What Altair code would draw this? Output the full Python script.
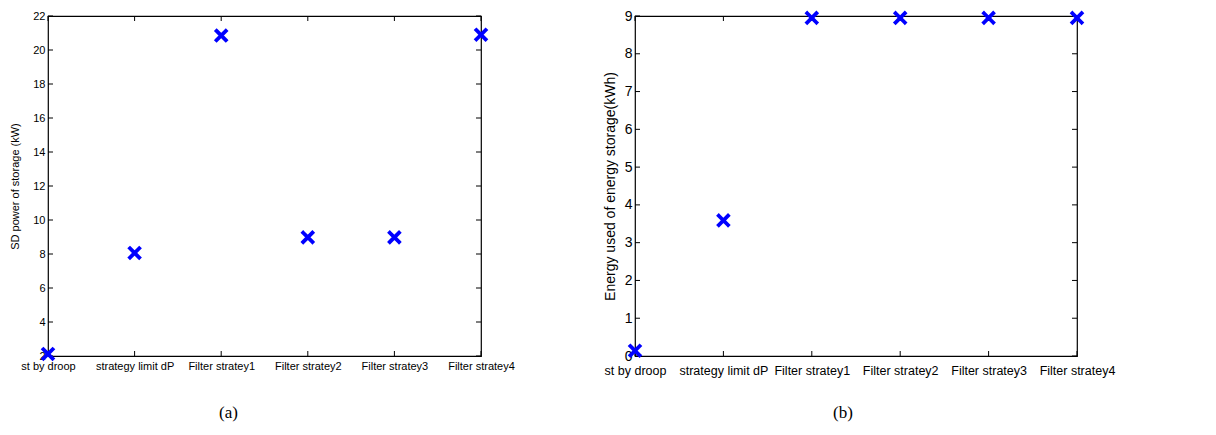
import altair as alt
import pandas as pd

categories = ["st by droop", "strategy limit dP", "Filter stratey1",
              "Filter stratey2", "Filter stratey3", "Filter stratey4"]
cat_pos = [1, 2, 3, 4, 5, 6]
sd_power = [2.12, 8.06, 20.85, 8.98, 8.98, 20.9]
energy_used = [0.14, 3.59, 8.95, 8.95, 8.95, 8.95]
yticks_a = [2, 4, 6, 8, 10, 12, 14, 16, 18, 20, 22]
yticks_b = [0, 1, 2, 3, 4, 5, 6, 7, 8, 9]

FONT = "Liberation Sans"
BLUE = "#0000FF"
XSHAPE = "M-1,-1L1,1M-1,1L1,-1"

label_expr = " : ".join(
    [f"datum.value == {p} ? '{c}'" for p, c in zip(cat_pos, categories)]) + " : ''"


def panel(values, yticks, ydomain, ytitle, W, H, xlab_fs, ylab_fs, title_fs, caption,
          cap_dx, cap_off, title_pad, xlab_pad):
    pts = pd.DataFrame({"x": cat_pos, "y": values})
    yt = pd.DataFrame({"y": yticks})
    xt = pd.DataFrame({"x": cat_pos})
    xs = alt.Scale(domain=[1, 6], nice=False, zero=False)
    ys = alt.Scale(domain=ydomain, nice=False, zero=False)
    xaxis = alt.Axis(values=cat_pos, labelExpr=label_expr, ticks=False, domain=False,
                     grid=False, labelFont=FONT, labelFontSize=xlab_fs, labelColor="black",
                     labelPadding=xlab_pad, title=None, labelOverlap=False, labelFlush=False)
    yaxis = alt.Axis(values=yticks, ticks=False, domain=False, grid=False,
                     labelFont=FONT, labelFontSize=ylab_fs, labelColor="black",
                     labelPadding=3, title=ytitle, titleFont=FONT,
                     titleFontSize=title_fs, titleFontWeight="normal",
                     titleColor="black", titlePadding=title_pad, labelFlush=False)
    X = alt.X("x:Q", scale=xs, axis=xaxis)
    Y = alt.Y("y:Q", scale=ys, axis=yaxis)
    tk = dict(color="black", strokeWidth=1)
    layers = [
        alt.Chart(yt).mark_rule(**tk).encode(y=Y, x=alt.value(0), x2=alt.value(5)),
        alt.Chart(yt).mark_rule(**tk).encode(y=Y, x=alt.value(W - 5), x2=alt.value(W)),
        alt.Chart(xt).mark_rule(**tk).encode(x=X, y=alt.value(H), y2=alt.value(H - 5)),
        alt.Chart(xt).mark_rule(**tk).encode(x=X, y=alt.value(0), y2=alt.value(5)),
        alt.Chart(pts).mark_point(shape=XSHAPE, filled=False, color=BLUE, strokeWidth=3.8,
                                  size=85, opacity=1, strokeCap="square").encode(x=X, y=Y),
    ]
    return alt.layer(*layers).properties(
        width=W, height=H,
        title=alt.TitleParams(caption, orient="bottom", font="Liberation Serif",
                              fontSize=17, fontWeight="normal", color="black",
                              offset=cap_off, dx=cap_dx),
    )


left = panel(sd_power, yticks_a, [2, 22], "SD power of storage (kW)", 433, 340,
             11, 11, 11, "(a)", -36, 34, 12, 4)
right = panel(energy_used, yticks_b, [0, 9], "Energy used of energy storage(kWh)",
              442, 340, 12.5, 14, 14, "(b)", -13, 28, 7, 8)

chart = alt.hconcat(left, right, spacing=154, bounds="flush").properties(
    padding={"left": 1, "top": -3, "right": 0, "bottom": 0},
    background="white",
).configure_view(stroke="black", strokeWidth=1.2)

chart.save("out.html", embed_options={"renderer": "svg", "actions": False})
